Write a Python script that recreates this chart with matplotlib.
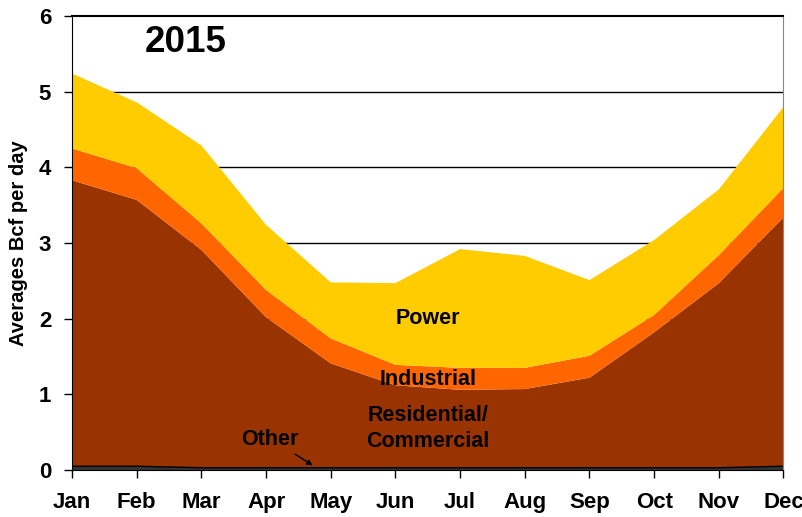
import numpy as np
import matplotlib.pyplot as plt

plt.rcParams['font.family'] = ['Liberation Sans', 'DejaVu Sans']
plt.rcParams['font.weight'] = 'bold'

months = ['Jan', 'Feb', 'Mar', 'Apr', 'May', 'Jun', 'Jul', 'Aug', 'Sep', 'Oct', 'Nov', 'Dec']
other = [0.05, 0.05, 0.03, 0.03, 0.03, 0.03, 0.03, 0.03, 0.03, 0.03, 0.03, 0.05]
res_com = [3.78, 3.52, 2.88, 1.99, 1.38, 1.09, 1.03, 1.04, 1.19, 1.79, 2.44, 3.29]
industrial = [0.42, 0.42, 0.35, 0.36, 0.33, 0.27, 0.29, 0.28, 0.29, 0.23, 0.37, 0.39]
power = [0.99, 0.87, 1.03, 0.86, 0.74, 1.08, 1.57, 1.48, 1.00, 0.99, 0.87, 1.07]

x = np.arange(len(months))

fig = plt.figure(figsize=(8.03, 5.17), dpi=100)
ax = fig.add_axes([0.0897, 0.0909, 0.886, 0.878])

# gridlines behind the areas
for y in range(1, 6):
    ax.axhline(y, color='black', lw=1.0, zorder=0)

ax.stackplot(x, other, res_com, industrial, power,
             colors=['#333333', '#993300', '#FF6600', '#FFCC00'],
             edgecolor='none', zorder=1)
ax.plot(x, other, color='black', lw=1.0, zorder=2)

ax.set_xlim(0, 11)
ax.set_ylim(0, 6)
ax.set_xticks(x)
ax.set_xticklabels(months)
ax.set_yticks(range(7))
ax.tick_params(axis='both', labelsize=16, direction='out', length=6, width=1)
ax.tick_params(axis='x', pad=10)
ax.tick_params(axis='y', pad=9)
for lab in ax.get_xticklabels() + ax.get_yticklabels():
    lab.set_fontweight('bold')

ax.set_ylabel('Averages Bcf per day', fontsize=14.5, fontweight='bold', labelpad=8)
ax.spines['right'].set_color('#888888')
ax.spines['top'].set_linewidth(1.5)

ax.text(1.13, 5.65, '2015', fontsize=26.5, fontweight='bold', ha='left', va='center')
ax.text(5.5, 2.0, 'Power', fontsize=15.5, fontweight='bold', ha='center', va='center')
ax.text(5.5, 1.19, 'Industrial', fontsize=15.5, fontweight='bold', ha='center', va='center')
ax.text(5.5, 0.55, 'Residential/\nCommercial', fontsize=15.5, fontweight='bold',
        ha='center', va='center', linespacing=1.3)
ax.text(3.06, 0.40, 'Other', fontsize=15.5, fontweight='bold', ha='center', va='center')
ax.annotate('', xy=(3.72, 0.06), xytext=(3.45, 0.21),
            arrowprops=dict(arrowstyle='-|>', color='black', lw=1, shrinkA=0, shrinkB=0,
                            mutation_scale=8))

fig.savefig('out.png', dpi=100)
